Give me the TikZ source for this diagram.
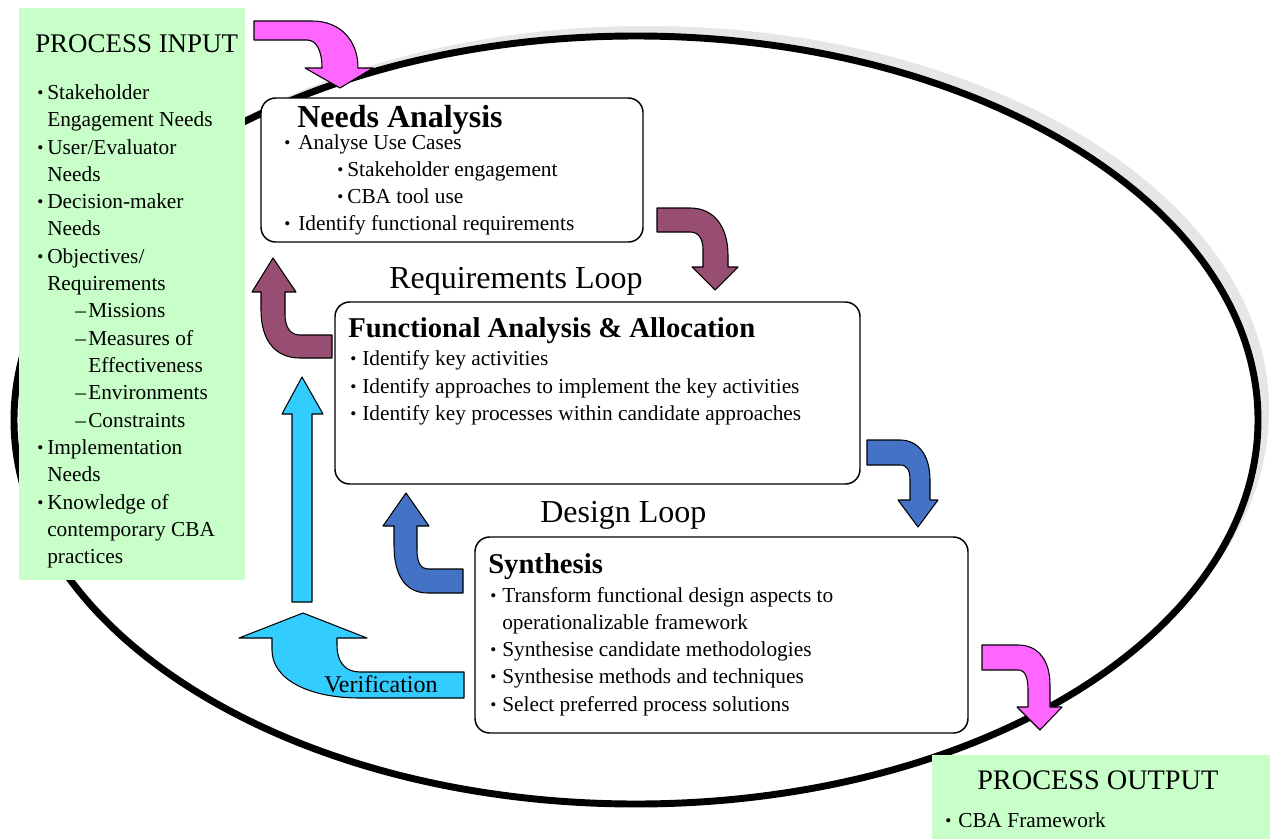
\documentclass[tikz,border=0pt]{standalone}
\usepackage{fontspec}
\setmainfont{Liberation Serif}
\definecolor{inbg}{RGB}{200,255,200}
\definecolor{pinkarr}{RGB}{255,102,255}
\definecolor{plumarr}{RGB}{152,78,115}
\definecolor{bluearr}{RGB}{68,114,196}
\definecolor{skyarr}{RGB}{51,204,255}
\definecolor{ringshadow}{RGB}{230,230,230}
\tikzset{
  stagebox/.style={draw=black, line width=1.1pt, rounded corners=11pt, fill=white},
  blockarrow/.style={draw=black, line width=0.8pt, line join=round},
  body/.style={inner sep=0pt, anchor=base west, font=\fontsize{16}{19}\selectfont},
  boxtitle/.style={inner sep=0pt, anchor=base west, font=\fontsize{21.5}{25}\selectfont\bfseries},
  looplabel/.style={inner sep=0pt, anchor=base west, font=\fontsize{24}{28}\selectfont},
  iolabel/.style={inner sep=0pt, anchor=base west, font=\fontsize{20.2}{24}\selectfont},
}
% bullet item: name, x, y, bullet box width (pt), text
\newcommand\bitem[5]{\node[body] (#1) at (#2,#3) {\makebox[#4pt][l]{\fontsize{13}{15}\selectfont\raisebox{0.5pt}{•}}#5};}
\newcommand\ditem[5]{\node[body] (#1) at (#2,#3) {\makebox[#4pt][l]{–}#5};}
\begin{document}
\begin{tikzpicture}[x=0.75pt, y=-0.75pt]
\useasboundingbox (0,0) rectangle (1270,839);

% process cycle ellipse with its shadow
\fill[ringshadow] (647,410) ellipse [x radius=466.5pt, y radius=288pt];
\draw[line width=5.2pt, fill=white] (636,420) ellipse [x radius=466.5pt, y radius=288pt];

% input and output panels
\fill[inbg] (19,8) rectangle (245,580);
\node[iolabel] (inTitle) at (35,52) {PROCESS INPUT};
\bitem{in1}{37}{99}{7.5}{Stakeholder}
\node[body] (in1b) at (47,126) {Engagement Needs};
\bitem{in2}{37}{154}{7.5}{User/Evaluator}
\node[body] (in2b) at (47,181) {Needs};
\bitem{in3}{37}{208}{7.5}{Decision-maker}
\node[body] (in3b) at (47,235) {Needs};
\bitem{in4}{37}{263}{7.5}{Objectives/}
\node[body] (in4b) at (47,290) {Requirements};
\ditem{in5}{75}{317}{9.75}{Missions}
\ditem{in6}{75}{345}{9.75}{Measures of}
\node[body] (in6b) at (88,372) {Effectiveness};
\ditem{in7}{75}{399}{9.75}{Environments}
\ditem{in8}{75}{427}{9.75}{Constraints}
\bitem{in9}{37}{454}{7.5}{Implementation}
\node[body] (in9b) at (47,481) {Needs};
\bitem{in10}{37}{509}{7.5}{Knowledge of}
\node[body] (in10b) at (47,536) {contemporary CBA};
\node[body] (in10c) at (47,563) {practices};

\fill[inbg] (932,755) rectangle (1270,839);
\node[iolabel, font=\fontsize{21.2}{24}\selectfont] (outTitle) at (977,789) {PROCESS OUTPUT};
\bitem{out1}{945}{827}{9.75}{CBA Framework}

% block arrows
\draw[blockarrow, fill=pinkarr] (254,21) -- (312,21) .. controls (340,21) and (358,40) .. (358,68)
  -- (373,68) -- (340,88) -- (305,68) -- (322,68) .. controls (322,50) and (316,40) .. (307,40)
  -- (254,40) -- cycle;
\draw[blockarrow, fill=plumarr] (657,208) -- (690,208) .. controls (715,208) and (728,228) .. (728,255)
  -- (728,267) -- (738,267) -- (715,290) -- (692,267) -- (703,267) -- (703,250)
  .. controls (703,238) and (698,232) .. (690,232) -- (657,232) -- cycle;
\draw[blockarrow, fill=plumarr] (332,335) -- (300,335) .. controls (291,335) and (285,328) .. (285,315)
  -- (285,292) -- (296,292) -- (273,258) -- (252,292) -- (261,292) -- (261,310)
  .. controls (261,340) and (275,358) .. (300,358) -- (332,358) -- cycle;
\draw[blockarrow, fill=bluearr] (867,440) -- (900,440) .. controls (918,440) and (930,455) .. (930,480)
  -- (930,500) -- (938,500) -- (918,527) -- (898,500) -- (910,500) -- (910,480)
  .. controls (910,470) and (907,465) .. (900,465) -- (867,465) -- cycle;
\draw[blockarrow, fill=bluearr] (463,569) -- (428,569) .. controls (421,569) and (417,563) .. (417,550)
  -- (417,526) -- (429,526) -- (406,493) -- (383,526) -- (394,526) -- (394,545)
  .. controls (394,575) and (405,593) .. (428,593) -- (463,593) -- cycle;
\draw[blockarrow, fill=skyarr] (292,602) -- (292,414) -- (282,414) -- (302,377) -- (323,414)
  -- (312,414) -- (312,602) -- cycle;
\draw[blockarrow, fill=skyarr] (464,672) -- (360,672) .. controls (345,672) and (337,662) .. (337,645)
  -- (337,638) -- (367,638) -- (303,613) -- (239,638) -- (272,638) -- (272,650)
  .. controls (272,680) and (310,698) .. (360,698) -- (464,698) -- cycle;
\draw[blockarrow, fill=pinkarr] (982,645) -- (1018,645) .. controls (1038,645) and (1050,660) .. (1050,685)
  -- (1050,707) -- (1062,707) -- (1040,730) -- (1017,707) -- (1028,707) -- (1028,690)
  .. controls (1028,677) and (1025,670) .. (1018,670) -- (982,670) -- cycle;
\node[inner sep=0pt, anchor=base west, font=\fontsize{18}{20}\selectfont] (verif) at (324,692) {Verification};

% stage boxes
\draw[stagebox] (261,98) rectangle (643,242);
\node[inner sep=0pt, anchor=base west, font=\fontsize{24}{28}\selectfont\bfseries] (needsT) at (297,127) {Needs Analysis};
\bitem{na1}{284}{149}{10.5}{Analyse Use Cases}
\bitem{na2}{337}{176}{7.5}{Stakeholder engagement}
\bitem{na3}{337}{203}{7.5}{CBA tool use}
\bitem{na4}{284}{230}{10.5}{Identify functional requirements}

\node[looplabel] (reqLoop) at (389,288) {Requirements Loop};

\draw[stagebox] (335,302) rectangle (860,484);
\node[boxtitle] (funcT) at (348,337) {Functional Analysis \& Allocation};
\bitem{fa1}{350}{365}{9}{Identify key activities}
\bitem{fa2}{350}{393}{9}{Identify approaches to implement the key activities}
\bitem{fa3}{350}{420}{9}{Identify key processes within candidate approaches}

\node[looplabel] (desLoop) at (540,522) {Design Loop};

\draw[stagebox] (475,537) rectangle (968,733);
\node[boxtitle] (synT) at (488,573) {Synthesis};
\bitem{sy1}{490}{602}{9}{Transform functional design aspects to}
\node[body] (sy1b) at (502,629) {operationalizable framework};
\bitem{sy2}{490}{656}{9}{Synthesise candidate methodologies}
\bitem{sy3}{490}{683}{9}{Synthesise methods and techniques}
\bitem{sy4}{490}{711}{9}{Select preferred process solutions}
\end{tikzpicture}
\end{document}
